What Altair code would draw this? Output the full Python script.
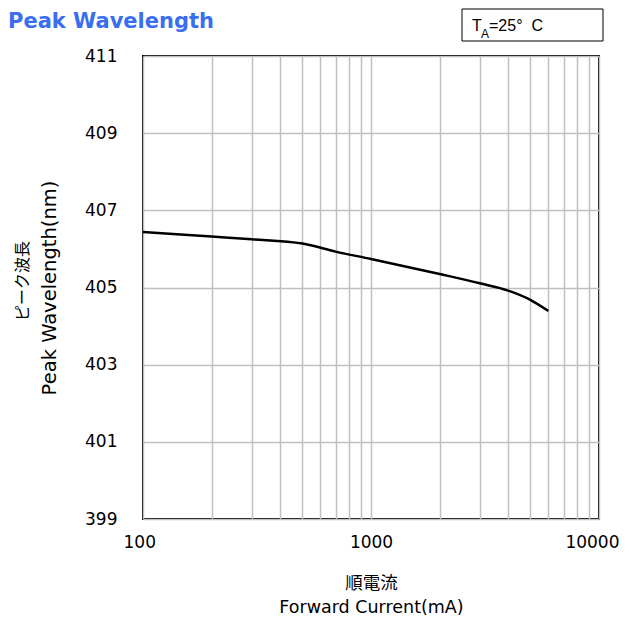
import altair as alt
import pandas as pd

# Data
current_mA = [100, 200, 300, 500, 700, 1000, 2000, 3000, 4000, 5000, 6000]
peak_nm = [406.44, 406.32, 406.25, 406.14, 405.93, 405.74, 405.35, 405.11, 404.92, 404.68, 404.39]

x_grid = [100, 200, 300, 400, 500, 600, 700, 800, 900,
          1000, 2000, 3000, 4000, 5000, 6000, 7000, 8000, 9000, 10000]
x_labels = [100, 1000, 10000]
y_ticks = [399, 401, 403, 405, 407, 409, 411]

chart_title = "Peak Wavelength"
note_main = "T"
note_sub = "A"
note_rest = "=25°\u00a0\u00a0C"
x_title = ["順電流", "Forward Current(mA)"]
y_title_jp = "ピーク波長"
y_title_en = "Peak Wavelength(nm)"

FONT = "DejaVu Sans, Noto Sans CJK JP"

df = pd.DataFrame({"current": current_mA, "wavelength": peak_nm})
one = pd.DataFrame({"k": [0]})

label_expr = "indexof([" + ",".join(str(v) for v in x_labels) + "], datum.value) >= 0 ? datum.label : ''"

line = alt.Chart(df).mark_line(color="black", strokeWidth=2.5, interpolate="monotone").encode(
    x=alt.X("current:Q",
            scale=alt.Scale(type="log", domain=[100, 10000], nice=False),
            axis=alt.Axis(values=x_grid, format="d", labelExpr=label_expr,
                          labelOverlap=False, labelFlush=True, labelFlushOffset=20,
                          title=x_title, titleX=228, titleY=55,
                          titleBaseline="top", titleLineHeight=24,
                          titleAnchor="middle")),
    y=alt.Y("wavelength:Q",
            scale=alt.Scale(domain=[399, 411], nice=False, zero=False),
            axis=alt.Axis(values=y_ticks, format="d", title=None)),
)

ytitle_jp = alt.Chart(one).mark_text(
    text=y_title_jp, font="Noto Sans CJK JP", fontSize=16, color="black",
    angle=270, align="center", baseline="middle"
).encode(x=alt.value(-120), y=alt.value(225))

ytitle_en = alt.Chart(one).mark_text(
    text=y_title_en, font=FONT, fontSize=19.5, color="black",
    angle=270, align="center", baseline="middle"
).encode(x=alt.value(-93), y=alt.value(232))

title_txt = alt.Chart(one).mark_text(
    text=chart_title, font=FONT, fontSize=21, fontWeight="bold",
    color="#3a6df0", align="left", baseline="alphabetic"
).encode(x=alt.value(-135), y=alt.value(-28))

box = alt.Chart(one).mark_rect(fill="white", stroke="black", strokeWidth=1).encode(
    x=alt.value(319), x2=alt.value(460), y=alt.value(-47), y2=alt.value(-15)
)

t_main = alt.Chart(one).mark_text(
    text=note_main, font="Liberation Sans", fontSize=16, color="black",
    align="left", baseline="alphabetic"
).encode(x=alt.value(329), y=alt.value(-25))

t_sub = alt.Chart(one).mark_text(
    text=note_sub, font="Liberation Sans", fontSize=12, color="black",
    align="left", baseline="alphabetic"
).encode(x=alt.value(338), y=alt.value(-18))

t_rest = alt.Chart(one).mark_text(
    text=note_rest, font="Liberation Sans", fontSize=16, color="black",
    align="left", baseline="alphabetic"
).encode(x=alt.value(346), y=alt.value(-25))

chart = alt.layer(line, ytitle_jp, ytitle_en, title_txt, box, t_main, t_sub, t_rest).properties(
    width=456, height=463,
    autosize=alt.AutoSizeParams(type="none"),
    padding={"left": 135, "top": 48, "right": 20, "bottom": 100},
).configure_view(
    stroke="black", strokeWidth=2
).configure_axis(
    domain=False, ticks=False,
    grid=True, gridColor="#c0c0c0", gridWidth=1.5,
    labelFont=FONT, labelFontSize=17, labelColor="black",
    titleFont=FONT, titleFontSize=17.5, titleFontWeight="normal", titleColor="black",
).configure_axisX(
    labelPadding=15
).configure_axisY(
    labelPadding=26
)

chart.save("out.html", embed_options={"renderer": "svg", "actions": False})
